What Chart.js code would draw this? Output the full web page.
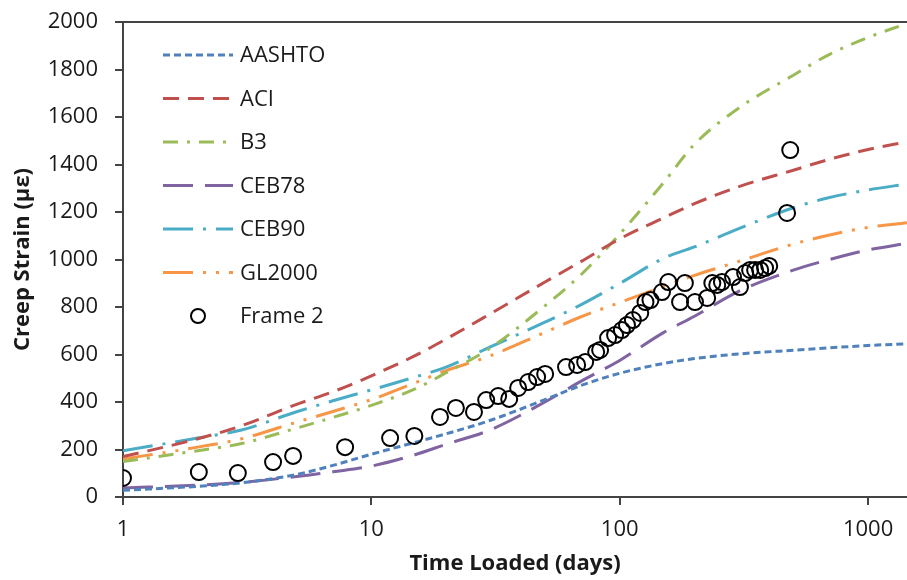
<!DOCTYPE html>
<html>
<head>
<meta charset="utf-8">
<script src="https://cdn.jsdelivr.net/npm/chart.js@4.4.1/dist/chart.umd.min.js"></script>
<style>
  html, body { margin: 0; padding: 0; background: #fff; }
  #wrap { width: 907px; height: 580px; }
</style>
</head>
<body>
<div id="wrap"><canvas id="chart"></canvas></div>
<script>
// model curves (days loaded -> creep strain, microstrain)
var days = [1, 2, 3, 5, 7, 10, 15, 20, 30, 50, 70, 100, 150, 200, 300, 500, 700, 1000, 1435];
var aashto = [28, 45, 60, 95, 133, 180, 230, 266, 322, 410, 470, 521, 562, 583, 602, 618, 628, 638, 645];
var aci    = [170, 245, 300, 390, 443, 510, 595, 665, 770, 905, 992, 1087, 1175, 1235, 1306, 1376, 1422, 1463, 1496];
var b3     = [149, 195, 225, 290, 335, 386, 455, 523, 626, 805, 937, 1107, 1323, 1485, 1636, 1776, 1864, 1935, 1994];
var ceb78  = [38, 50, 62, 86, 106, 130, 178, 222, 282, 400, 488, 575, 692, 761, 865, 955, 1000, 1040, 1068];
var ceb90  = [195, 248, 282, 359, 405, 451, 505, 547, 631, 736, 810, 899, 1005, 1053, 1129, 1218, 1261, 1293, 1318];
var gl2000 = [160, 210, 245, 315, 360, 410, 481, 532, 594, 693, 759, 819, 886, 933, 991, 1065, 1103, 1135, 1155];

// measured data, Frame 2
var frameDays = [1.0, 2.02, 2.9, 4.02, 4.84, 7.84, 11.9, 14.9, 18.9, 21.9, 25.9, 29.0, 32.4, 35.9, 39.0, 42.8, 46.5, 50.1,
  60.8, 67.4, 72.6, 80.4, 83.4, 89.8, 95.8, 102, 107, 113, 121, 127, 133, 148, 157, 175, 183, 201, 225, 236, 247, 258,
  286, 305, 320, 335, 351, 368, 385, 400, 472, 486];
var frameStrain = [80, 105, 101, 147, 173, 210, 248, 257, 337, 375, 358, 408, 425, 413, 459, 484, 505, 518,
  547, 556, 568, 611, 619, 669, 682, 703, 724, 745, 775, 821, 829, 863, 905, 821, 901, 821, 838, 901, 893, 905,
  926, 884, 943, 956, 956, 956, 964, 973, 1196, 1461];

var xTicks = [1, 10, 100, 1000];
var xMax = 1435;

function pts(xs, ys) {
    return xs.map(function(x, i){ return {x: x, y: ys[i]}; });
}

function curve(label, values, color, dash) {
    return {
        type: 'line',
        label: label,
        data: pts(days, values),
        borderColor: color,
        backgroundColor: color,
        borderWidth: 3,
        borderDash: dash,
        borderCapStyle: 'butt',
        pointRadius: 0,
        cubicInterpolationMode: 'monotone',
        fill: false,
        order: 1
    };
}

var datasets = [
    curve('AASHTO', aashto, '#4F81BD', [7, 4]),
    curve('ACI', aci, '#C0504D', [16, 9]),
    curve('B3', b3, '#9BBB59', [15, 9, 3, 9]),
    curve('CEB78', ceb78, '#8064A2', [30, 12]),
    curve('CEB90', ceb90, '#4BACC6', [30, 10, 3, 10]),
    curve('GL2000', gl2000, '#F79646', [30, 10, 3, 10, 3, 10]),
    {
        type: 'scatter',
        label: 'Frame 2',
        data: pts(frameDays, frameStrain),
        borderColor: '#000',
        backgroundColor: 'rgba(0,0,0,0)',
        borderWidth: 2,
        pointRadius: 8,
        pointHoverRadius: 8,
        order: 0
    }
];

// legend drawn inside the plot, top left, with the real dash patterns
var insideLegend = {
    id: 'insideLegend',
    afterDraw: function(chart) {
        var ctx = chart.ctx;
        var area = chart.chartArea;
        var x0 = area.left + 40, x1 = area.left + 110, tx = area.left + 117;
        ctx.save();
        ctx.font = '22px "Open Sans"';
        ctx.textBaseline = 'middle';
        ctx.fillStyle = '#1a1a1a';
        chart.data.datasets.forEach(function(ds, i){
            var y = area.top + 33 + i * 43.5;
            if (ds.type === 'scatter') {
                ctx.beginPath();
                ctx.setLineDash([]);
                ctx.lineWidth = 2;
                ctx.strokeStyle = '#000';
                ctx.arc((x0 + x1) / 2, y, 7, 0, Math.PI * 2);
                ctx.stroke();
            } else {
                ctx.beginPath();
                ctx.setLineDash(ds.borderDash);
                ctx.lineWidth = 3;
                ctx.strokeStyle = ds.borderColor;
                ctx.moveTo(x0, y);
                ctx.lineTo(x1, y);
                ctx.stroke();
            }
            ctx.fillText(ds.label, tx, y + 1);
        });
        // top frame line
        ctx.setLineDash([]);
        ctx.strokeStyle = '#444';
        ctx.lineWidth = 2;
        ctx.beginPath();
        ctx.moveTo(area.left, area.top);
        ctx.lineTo(area.right, area.top);
        ctx.stroke();
        ctx.restore();
    }
};

new Chart(document.getElementById('chart'), {
    type: 'line',
    data: { datasets: datasets },
    options: {
        responsive: true,
        maintainAspectRatio: false,
        animation: false,
        layout: { autoPadding: false, padding: { top: 22, right: 0, left: 0, bottom: 0 } },
        plugins: {
            legend: { display: false },
            tooltip: { enabled: false }
        },
        scales: {
            x: {
                type: 'logarithmic',
                min: 1,
                max: xMax,
                afterBuildTicks: function(scale){
                    scale.ticks = xTicks.map(function(v){ return {value: v}; });
                },
                afterFit: function(scale){
                    scale.height = 83;
                    scale.paddingLeft = 0;
                    scale.paddingRight = 0;
                },
                ticks: {
                    autoSkip: false,
                    maxRotation: 0,
                    padding: 12,
                    color: '#1a1a1a',
                    font: { family: '"Open Sans"', size: 22 },
                    callback: function(v){ return String(v); }
                },
                grid: { drawOnChartArea: false, drawTicks: true, tickLength: 8, color: '#444', lineWidth: 2 },
                border: { display: true, color: '#444', width: 2 },
                title: {
                    display: true,
                    text: 'Time Loaded (days)',
                    color: '#1a1a1a',
                    font: { family: '"Open Sans"', size: 22, weight: 'bold' },
                    padding: { top: 0, bottom: 3 }
                }
            },
            y: {
                min: 0,
                max: 2000,
                afterFit: function(scale){
                    scale.width = 123;
                    scale.paddingTop = 0;
                    scale.paddingBottom = 0;
                },
                ticks: {
                    stepSize: 200,
                    padding: 17,
                    color: '#1a1a1a',
                    font: { family: '"Open Sans"', size: 22 },
                    callback: function(v){ return String(v); }
                },
                grid: { drawOnChartArea: false, drawTicks: true, tickLength: 8, color: '#444', lineWidth: 2 },
                border: { display: true, color: '#444', width: 2 },
                title: {
                    display: true,
                    text: 'Creep Strain (με)',
                    color: '#1a1a1a',
                    font: { family: '"Open Sans"', size: 22, weight: 'bold' },
                    padding: { top: 10, bottom: 0 }
                }
            }
        }
    },
    plugins: [insideLegend]
});
</script>
</body>
</html>
